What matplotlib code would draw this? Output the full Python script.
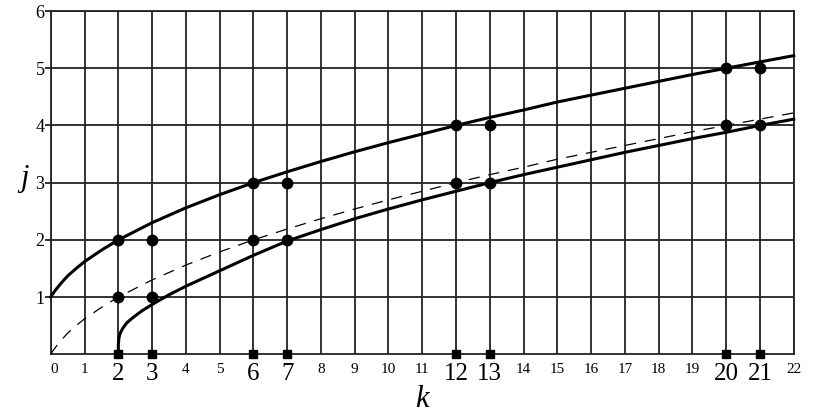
import matplotlib
matplotlib.use("Agg")
import matplotlib.pyplot as plt

# upper solid curve
upper_k = [0, 0.05, 0.15, 0.3, 0.5, 0.75, 1, 1.5, 2, 3, 4, 5, 6, 7, 8, 9, 10, 11,
           12, 13, 14, 15, 16, 17, 18, 19, 20, 21, 22]
upper_j = [1.0, 1.05, 1.13, 1.24, 1.37, 1.50, 1.62, 1.82, 2.0, 2.30, 2.56, 2.79, 3.0,
           3.19, 3.37, 3.54, 3.70, 3.85, 4.0, 4.14, 4.27, 4.41, 4.53, 4.65, 4.77,
           4.89, 5.0, 5.11, 5.22]

# lower solid curve
lower_k = [2, 2.0, 2.02, 2.05, 2.1, 2.15, 2.25, 2.45, 2.7, 3, 3.5, 4, 5, 6, 7, 8, 9,
           10, 11, 12, 13, 14, 15, 16, 17, 18, 19, 20, 21, 22]
lower_j = [0.0, 0.17, 0.29, 0.36, 0.42, 0.47, 0.55, 0.65, 0.76, 0.87, 1.04, 1.19,
           1.46, 1.73, 1.98, 2.18, 2.37, 2.54, 2.70, 2.85, 3.0, 3.14, 3.27, 3.40,
           3.53, 3.65, 3.77, 3.88, 4.0, 4.11]

# dashed curve
dash_k = [0, 0.05, 0.15, 0.3, 0.5, 0.75, 1, 1.5, 2, 3, 4, 5, 6, 7, 8, 9, 10, 11,
          12, 13, 14, 15, 16, 17, 18, 19, 20, 21, 22]
dash_j = [0.0, 0.05, 0.13, 0.24, 0.37, 0.50, 0.62, 0.82, 1.0, 1.30, 1.56, 1.79, 2.0,
          2.19, 2.37, 2.54, 2.70, 2.85, 3.0, 3.14, 3.27, 3.41, 3.53, 3.65, 3.77,
          3.89, 4.0, 4.11, 4.22]

# marked points
dot_k = [2, 2, 3, 3, 6, 6, 7, 7, 12, 12, 13, 13, 20, 20, 21, 21]
dot_j = [1, 2, 1, 2, 2, 3, 2, 3, 3, 4, 3, 4, 4, 5, 4, 5]
square_k = [2, 3, 6, 7, 12, 13, 20, 21]

k_ticks = list(range(0, 23))
j_ticks = [1, 2, 3, 4, 5, 6]
big_ticks = [2, 3, 6, 7, 12, 13, 20, 21]

serif = "Liberation Serif"

fig = plt.figure(figsize=(8.15, 4.19), dpi=100)
ax = fig.add_axes([0.0623, 0.1544, 0.9116, 0.8193])

ax.set_xlim(0, 22)
ax.set_ylim(0, 6)

# grid
for k in k_ticks:
    ax.axvline(k, color="#222222", lw=1.3, zorder=1)
for j in j_ticks:
    ax.axhline(j, color="#222222", lw=1.3, zorder=1)

# curves
ax.plot(upper_k, upper_j, color="black", lw=2.2, zorder=3, clip_on=False)
ax.plot(lower_k, lower_j, color="black", lw=2.2, zorder=3, clip_on=False)
ax.plot(dash_k, dash_j, color="black", lw=0.9, dashes=(9, 7), zorder=3)

# points
ax.plot(dot_k, dot_j, "o", color="black", ms=7.5, zorder=4)
ax.plot(square_k, [0] * len(square_k), "s", color="black", ms=5.5, zorder=4, clip_on=False)

for s in ["left", "bottom", "top", "right"]:
    ax.spines[s].set_linewidth(1.3)
    ax.spines[s].set_color("#222222")

ax.set_xticks(k_ticks)
ax.set_xticklabels([str(k) for k in k_ticks], family=serif)
for k, lab in zip(k_ticks, ax.get_xticklabels()):
    lab.set_fontsize(18 if k in big_ticks else 11)
ax.get_xticklabels()[0].set_horizontalalignment("left")

ax.set_yticks(j_ticks)
ax.set_yticklabels([str(j) for j in j_ticks], family=serif, fontsize=13)

ax.tick_params(axis="x", length=0, pad=6)
ax.tick_params(axis="y", length=4, width=1.3, pad=0.5, color="#222222")

ax.set_xlabel("k", family=serif, style="italic", fontsize=22, labelpad=0)
ax.set_ylabel("j", family=serif, style="italic", fontsize=22, rotation=0, labelpad=14)
ax.yaxis.set_label_coords(-0.036, 0.47)

fig.savefig("out.png", dpi=100)
